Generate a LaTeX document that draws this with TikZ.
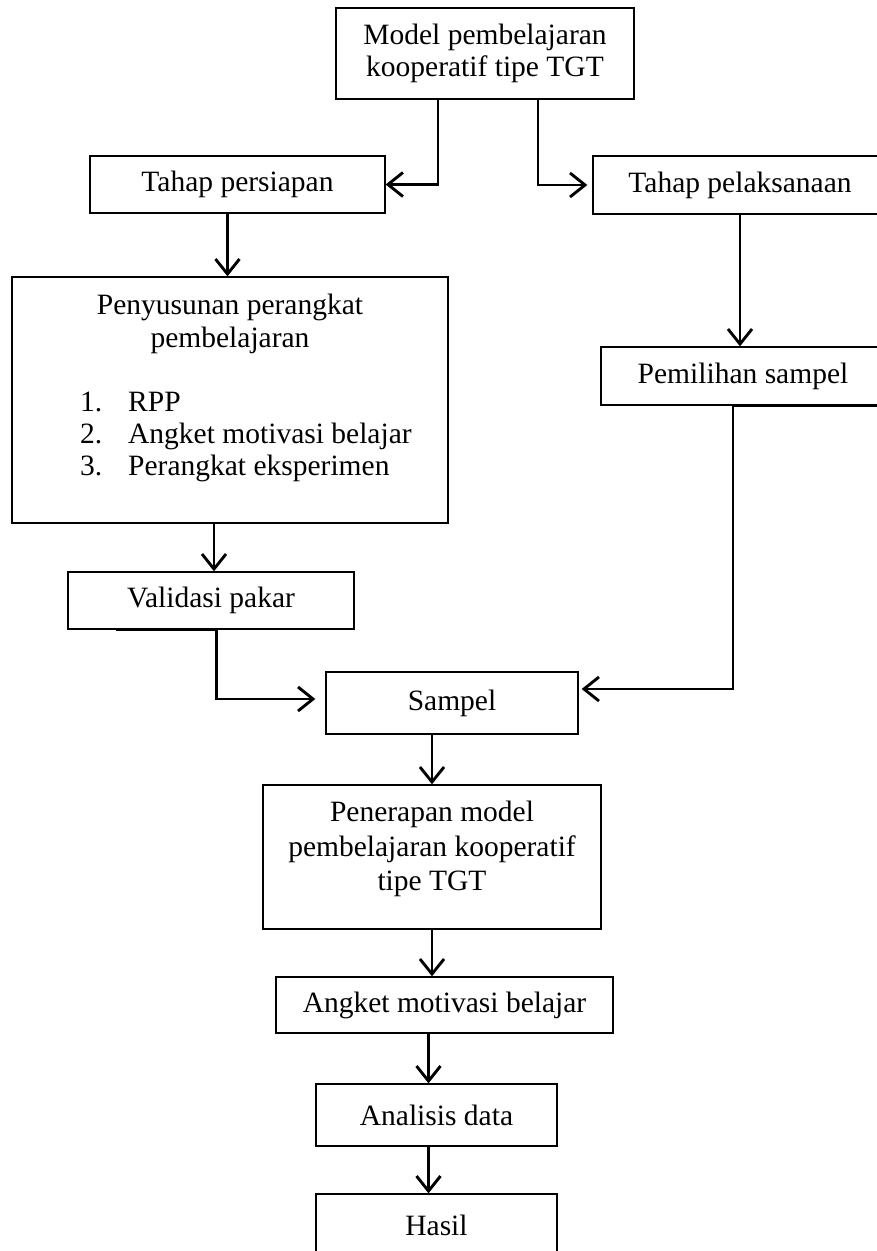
\documentclass[tikz,border=0pt]{standalone}
\usepackage{fontspec}
\setmainfont{Liberation Serif}
\usetikzlibrary{arrows.meta,calc}
\begin{document}
\begin{tikzpicture}[x=1pt,y=-1pt,
  box/.style={draw,line width=1.3pt,inner sep=0pt,font=\fontsize{29.5}{32}\selectfont,align=center},
  conn/.style={line width=2.9pt,-{Straight Barb[length=15pt,width=24pt]}},
  txt/.style={inner sep=0pt,font=\fontsize{29.5}{32}\selectfont,align=center}]
\useasboundingbox (0,0) rectangle (877,1251);
\clip (0,0) rectangle (877,1251);
\node[box,minimum width=298pt,minimum height=91pt] (model) at (485,53.5) {Model pembelajaran\\kooperatif tipe TGT};
\node[box,minimum width=295pt,minimum height=57pt] (prep) at (237.5,184.5) {Tahap persiapan};
\node[box,minimum width=294pt,minimum height=58pt] (exec) at (740,185) {Tahap pelaksanaan};
\node[box,minimum width=436pt,minimum height=246pt] (penyu) at (230,400) {};
\node[txt,font=\fontsize{29.5}{33}\selectfont] (penyut) at (230,324) {Penyusunan perangkat\\pembelajaran};
\node[txt,align=left,anchor=west] (penyul) at (80,437) {\makebox[48pt][l]{1.}RPP\\\makebox[48pt][l]{2.}Angket motivasi belajar\\\makebox[48pt][l]{3.}Perangkat eksperimen};
\node[box,minimum width=284pt,minimum height=58pt] (pemil) at (743,376) {Pemilihan sampel};
\node[box,minimum width=286pt,minimum height=57pt] (valid) at (211,600.5) {Validasi pakar};
\node[box,minimum width=252pt,minimum height=62pt] (sampel) at (452,703) {Sampel};
\node[box,minimum width=338pt,minimum height=144pt] (pener) at (432,857) {};
\node[txt,font=\fontsize{29.5}{34.5}\selectfont] (penert) at (432,849) {Penerapan model\\pembelajaran kooperatif\\tipe TGT};
\node[box,minimum width=337pt,minimum height=56pt] (angket) at (444.5,1005) {Angket motivasi belajar};
\node[box,minimum width=241pt,minimum height=62pt] (anal) at (436.5,1115) {Analisis data};
\node[box,minimum width=241pt,minimum height=62pt] (hasil) at (436.5,1225) {Hasil};
% connectors
\draw[conn] ([xshift=-47pt]model.south) |- (prep.east);
\draw[conn,shorten >=5pt] ([xshift=53pt]model.south) |- (exec.west);
\draw[conn] ([xshift=-10pt]prep.south) -- ([xshift=-10pt]prep.south |- penyu.north);
\draw[conn] (exec.south) -- (exec.south |- pemil.north);
\draw[conn] ([xshift=3pt]valid.north |- penyu.south) -- ([xshift=3pt]valid.north);
\draw[conn,shorten >=10pt] ([xshift=49pt]valid.south west) -- ([xshift=149pt]valid.south west) |- ([yshift=4pt]sampel.west);
\draw[conn,shorten >=3pt] ([xshift=-8pt]pemil.south east) -- ([xshift=-10pt]pemil.south) |- ([yshift=14pt]sampel.east);
\draw[conn] (pener.north |- sampel.south) -- (pener.north);
\draw[conn] (pener.south) -- (pener.south |- angket.north);
\draw[conn] ([xshift=-8pt]anal.north |- angket.south) -- ([xshift=-8pt]anal.north);
\draw[conn] ([xshift=-8pt]anal.south) -- ([xshift=-8pt]hasil.north);
\end{tikzpicture}
\end{document}
